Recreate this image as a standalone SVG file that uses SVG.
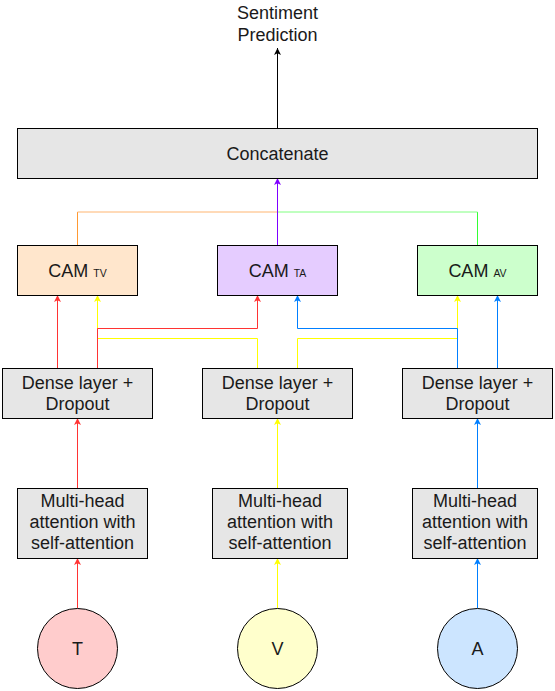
<svg xmlns="http://www.w3.org/2000/svg" width="555" height="691" viewBox="0 0 555 691">
<defs>
<style>
.box{stroke:#000;stroke-width:1}
.g{fill:#E6E6E6}
.t{font-family:"Liberation Sans",Arial,sans-serif;font-size:18px;fill:#1A1A1A;text-anchor:middle}
.sub{font-size:10.5px}
.c{fill:none;stroke-width:1}
</style>
<marker id="aR" viewBox="-8 -4 9 8" refX="0" refY="0" markerWidth="9" markerHeight="8" markerUnits="userSpaceOnUse" orient="auto"><path d="M0,0 L-7,-3.5 L-5.25,0 L-7,3.5 Z" fill="#FF3333"/></marker>
<marker id="aY" viewBox="-8 -4 9 8" refX="0" refY="0" markerWidth="9" markerHeight="8" markerUnits="userSpaceOnUse" orient="auto"><path d="M0,0 L-7,-3.5 L-5.25,0 L-7,3.5 Z" fill="#FFFF00"/></marker>
<marker id="aB" viewBox="-8 -4 9 8" refX="0" refY="0" markerWidth="9" markerHeight="8" markerUnits="userSpaceOnUse" orient="auto"><path d="M0,0 L-7,-3.5 L-5.25,0 L-7,3.5 Z" fill="#007FFF"/></marker>
<marker id="aP" viewBox="-8 -4 9 8" refX="0" refY="0" markerWidth="9" markerHeight="8" markerUnits="userSpaceOnUse" orient="auto"><path d="M0,0 L-7,-3.5 L-5.25,0 L-7,3.5 Z" fill="#7F00FF"/></marker>
<marker id="aK" viewBox="-8 -4 9 8" refX="0" refY="0" markerWidth="9" markerHeight="8" markerUnits="userSpaceOnUse" orient="auto"><path d="M0,0 L-7,-3.5 L-5.25,0 L-7,3.5 Z" fill="#000"/></marker>
</defs>
<rect width="555" height="691" fill="#fff"/>

<g id="connectors">
<path class="c" stroke="#000" d="M277.5,128 V48" marker-end="url(#aK)"/>
<path class="c" stroke="#FF9933" d="M77.5,245 V212"/>
<path class="c" stroke="#FFB570" d="M77.5,212 H277.5"/>
<path class="c" stroke="#33FF33" d="M477.5,245 V212"/>
<path class="c" stroke="#80FF80" d="M477.5,212 H277.5"/>
<path class="c" stroke="#7F00FF" d="M277.5,245 V178" marker-end="url(#aP)"/>
<path class="c" stroke="#FFFF00" d="M257.5,368 V338.5 H97.5 V295" marker-end="url(#aY)"/>
<path class="c" stroke="#FFFF00" d="M297.5,368 V338.5 H457.5 V295" marker-end="url(#aY)"/>
<path class="c" stroke="#FF3333" d="M57.5,368 V295" marker-end="url(#aR)"/>
<path class="c" stroke="#FF3333" d="M97.5,368 V328.5 H257.5 V295" marker-end="url(#aR)"/>
<path class="c" stroke="#007FFF" d="M457.5,368 V328.5 H297.5 V295" marker-end="url(#aB)"/>
<path class="c" stroke="#007FFF" d="M497.5,368 V295" marker-end="url(#aB)"/>
<path class="c" stroke="#FF3333" d="M77.5,488 V418" marker-end="url(#aR)"/>
<path class="c" stroke="#FFFF00" d="M277.5,488 V418" marker-end="url(#aY)"/>
<path class="c" stroke="#007FFF" d="M477.5,488 V418" marker-end="url(#aB)"/>
<path class="c" stroke="#FF3333" d="M77.5,608 V558" marker-end="url(#aR)"/>
<path class="c" stroke="#FFFF00" d="M277.5,608 V558" marker-end="url(#aY)"/>
<path class="c" stroke="#007FFF" d="M477.5,608 V558" marker-end="url(#aB)"/>
</g>

<g id="output">
<text class="t" x="277.5" y="19">Sentiment</text>
<text class="t" x="277.5" y="40.5">Prediction</text>
</g>

<g id="concatenate">
<rect class="box g" x="17.5" y="128.5" width="520" height="50"/>
<text class="t" x="277.5" y="159.5">Concatenate</text>
</g>

<g id="cam-tv">
<rect class="box" fill="#FFE6CC" x="17.5" y="245.5" width="120" height="50"/>
<text class="t" x="77.5" y="276.5">CAM <tspan class="sub">TV</tspan></text>
</g>
<g id="cam-ta">
<rect class="box" fill="#E5CCFF" x="217.5" y="245.5" width="120" height="50"/>
<text class="t" x="277.5" y="276.5">CAM <tspan class="sub">TA</tspan></text>
</g>
<g id="cam-av">
<rect class="box" fill="#CCFFCC" x="417.5" y="245.5" width="120" height="50"/>
<text class="t" x="477.5" y="276.5">CAM <tspan class="sub">AV</tspan></text>
</g>

<g id="dense-t">
<rect class="box g" x="2.5" y="368.5" width="150" height="50"/>
<text class="t" x="77.5" y="388.5">Dense layer +</text>
<text class="t" x="77.5" y="409.5">Dropout</text>
</g>
<g id="dense-v">
<rect class="box g" x="202.5" y="368.5" width="150" height="50"/>
<text class="t" x="277.5" y="388.5">Dense layer +</text>
<text class="t" x="277.5" y="409.5">Dropout</text>
</g>
<g id="dense-a">
<rect class="box g" x="402.5" y="368.5" width="150" height="50"/>
<text class="t" x="477.5" y="388.5">Dense layer +</text>
<text class="t" x="477.5" y="409.5">Dropout</text>
</g>

<g id="mha-t">
<rect class="box g" x="17.5" y="488.5" width="130" height="70"/>
<text class="t" x="82.5" y="506.5">Multi-head</text>
<text class="t" x="82.5" y="527.7">attention with</text>
<text class="t" x="82.5" y="548.9">self-attention</text>
</g>
<g id="mha-v">
<rect class="box g" x="212.5" y="488.5" width="135" height="70"/>
<text class="t" x="280" y="506.5">Multi-head</text>
<text class="t" x="280" y="527.7">attention with</text>
<text class="t" x="280" y="548.9">self-attention</text>
</g>
<g id="mha-a">
<rect class="box g" x="412.5" y="488.5" width="125" height="70"/>
<text class="t" x="475" y="506.5">Multi-head</text>
<text class="t" x="475" y="527.7">attention with</text>
<text class="t" x="475" y="548.9">self-attention</text>
</g>

<g id="input-t">
<circle class="box" fill="#FFCCCC" cx="77.5" cy="648.5" r="40"/>
<text class="t" x="77.5" y="655">T</text>
</g>
<g id="input-v">
<circle class="box" fill="#FFFFCC" cx="277.5" cy="648.5" r="40"/>
<text class="t" x="277.5" y="655">V</text>
</g>
<g id="input-a">
<circle class="box" fill="#CCE5FF" cx="477.5" cy="648.5" r="40"/>
<text class="t" x="477.5" y="655">A</text>
</g>
</svg>
